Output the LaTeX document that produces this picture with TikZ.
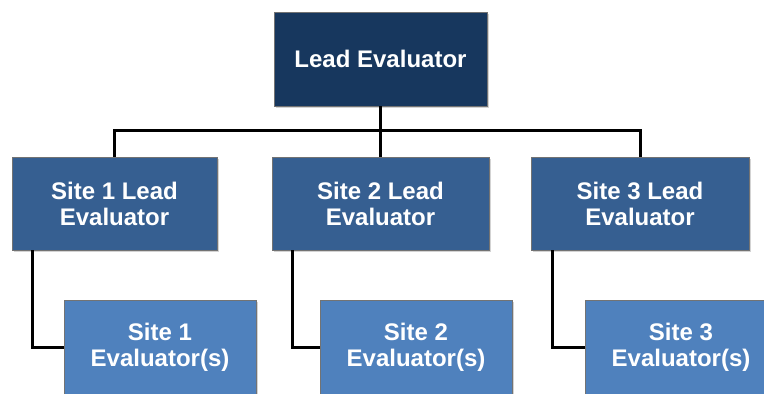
\documentclass[tikz,border=0pt]{standalone}
\usepackage{fontspec}
\setmainfont{Liberation Sans}
\usepackage{tikz}
\usetikzlibrary{positioning,shadows}
\definecolor{leadblue}{RGB}{23,55,94}
\definecolor{siteblue}{RGB}{54,95,145}
\definecolor{evalblue}{RGB}{79,129,189}
\tikzset{box/.style={rectangle,draw=black!55,thin,text=white,align=center,
           font=\bfseries\fontsize{24}{26}\selectfont,inner sep=0pt,
           drop shadow={shadow xshift=2pt,shadow yshift=-2pt,opacity=0.35}},
         lead/.style={box,fill=leadblue,minimum width=213pt,minimum height=94pt},
         site/.style={box,fill=siteblue,minimum height=93pt},
         evals/.style={box,fill=evalblue,minimum width=192pt,minimum height=94pt},
         conn/.style={line width=3pt,black}
}

\begin{document}
\begin{tikzpicture}[x=1pt,y=-1pt]
       \useasboundingbox (0,0) rectangle (764,394);
       \begin{scope}
       \clip (0,0) rectangle (764,394);
       % top level
       \node[lead] (L) at (380.5,59) {Lead Evaluator};
       % site leads
       \node[site, minimum width=205pt] (S1) at (114.5,203.5) {Site 1 Lead\\Evaluator};
       \node[site, minimum width=217pt] (S2) at (380.5,203.5) {Site 2 Lead\\Evaluator};
       \node[site, minimum width=218pt] (S3) at (640,203.5) {Site 3 Lead\\Evaluator};
       % evaluators
       \node[evals] (E1) at (160,347) {Site 1\\Evaluator(s)};
       \node[evals] (E2) at (416,347) {Site 2\\Evaluator(s)};
       \node[evals] (E3) at (681,347) {Site 3\\Evaluator(s)};
       \coordinate (bar) at (380.5,130);
       \draw[conn] (L) -- (bar);
       \draw[conn] (S1) |- (bar) -| (S3);
       \draw[conn] (bar) -- (S2);
       \draw[conn] ([xshift=21pt]S1.south west) |- (E1.west);
       \draw[conn] ([xshift=21pt]S2.south west) |- (E2.west);
       \draw[conn] ([xshift=22pt]S3.south west) |- (E3.west);
       \end{scope}
     \end{tikzpicture}
\end{document}
